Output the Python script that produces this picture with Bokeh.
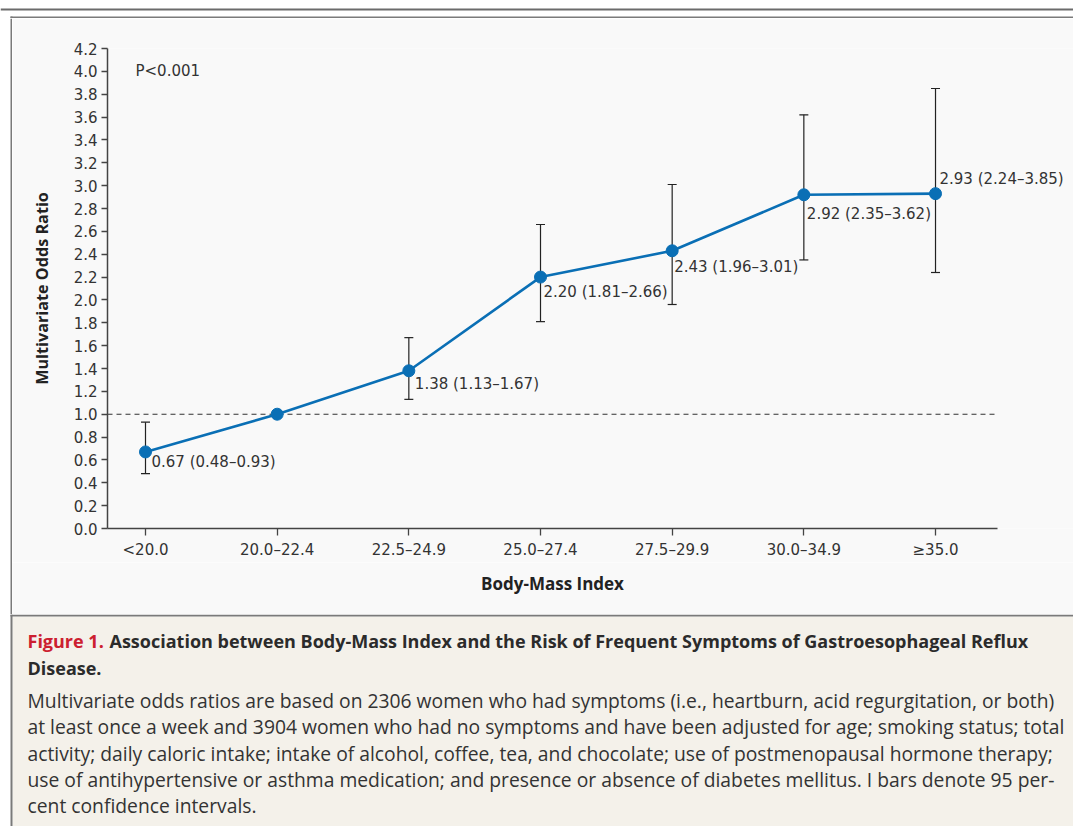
from bokeh.plotting import figure
from bokeh.layouts import column, row
from bokeh.models import (Range1d, FixedTicker, PrintfTickFormatter, Whisker, TeeHead,
                          ColumnDataSource, Label)
from bokeh.core.properties import value
from bokeh.embed import file_html
from bokeh.resources import INLINE

# ---------------- data ----------------
categories = ["<20.0", "20.0\u201322.4", "22.5\u201324.9", "25.0\u201327.4",
              "27.5\u201329.9", "30.0\u201334.9", "\u226535.0"]
odds_ratio = [0.67, 1.00, 1.38, 2.20, 2.43, 2.92, 2.93]
ci_lower = [0.48, None, 1.13, 1.81, 1.96, 2.35, 2.24]
ci_upper = [0.93, None, 1.67, 2.66, 3.01, 3.62, 3.85]
y_ticks = [0.0, 0.2, 0.4, 0.6, 0.8, 1.0, 1.2, 1.4, 1.6, 1.8, 2.0,
           2.2, 2.4, 2.6, 2.8, 3.0, 3.2, 3.4, 3.6, 3.8, 4.0, 4.2]
reference_value = 1.0
p_value_text = "P<0.001"
x_title = "Body-Mass Index"
y_title = "Multivariate Odds Ratio"

caption_title_red = "Figure 1."
caption_title_lines = [
    "Association between Body-Mass Index and the Risk of Frequent Symptoms of Gastroesophageal Reflux",
    "Disease.",
]
caption_body_lines = [
    "Multivariate odds ratios are based on 2306 women who had symptoms (i.e., heartburn, acid regurgitation, or both)",
    "at least once a week and 3904 women who had no symptoms and have been adjusted for age; smoking status; total",
    "activity; daily caloric intake; intake of alcohol, coffee, tea, and chocolate; use of postmenopausal hormone therapy;",
    "use of antihypertensive or asthma medication; and presence or absence of diabetes mellitus. I bars denote 95 per-",
    "cent confidence intervals.",
]

# ---------------- styles / layout ----------------
label_dx = [6, 0, 6, 3, 2, 3, 4]          # px offsets of the value labels
label_dy = [10.5, 0, 13.5, 15, 16, 19, -15]

BLUE = "#0a6fb5"
INK = "#333333"
AXIS = "#444444"
BORDER = "#7a7a7a"
TOPLINE = "#6b6b6b"
CHART_BG = "#f9f9f9"
CAPTION_BG = "#f4f1ea"
RED = "#cc2030"
NUM_FONT = "DejaVu Sans"
TXT_FONT = "Open Sans"

PAGE_W = 1073
HEADER_H = 18
PLOT_H = 544          # page y 18 .. 562
XTITLE_H = 52         # page y 562 .. 614
CAPTION_H = 212       # page y 614 .. 826
STRIP_W = 12
X_START, X_AXIS_END, X_END = -0.2886, 6.471, 7.048


def deco_fig(w, h, x0, y0, bg="white"):
    f = figure(width=w, height=h, output_backend="svg", toolbar_location=None,
               x_range=Range1d(x0, x0 + w), y_range=Range1d(y0 + h, y0),
               min_border=0, border_fill_color=bg, background_fill_color=bg,
               outline_line_color=None)
    f.axis.visible = False
    f.grid.visible = False
    f.frame_align = False
    return f


# header strip: top rule and top edge of the chart box
header = deco_fig(PAGE_W, HEADER_H, 0, 0)
header.quad(left=[0, 10, 10], right=[PAGE_W, PAGE_W, 12], top=[8, 16, 16], bottom=[10, 18, 18],
            fill_color=[TOPLINE, BORDER, BORDER], line_alpha=0)

# left edge strip
strip = deco_fig(STRIP_W, PLOT_H + XTITLE_H, 0, HEADER_H)
strip.quad(left=[10], right=[12], top=[HEADER_H], bottom=[HEADER_H + PLOT_H + XTITLE_H],
           fill_color=BORDER, line_alpha=0)

# ---------------- chart ----------------
xs = list(range(len(categories)))

p = figure(width=PAGE_W - STRIP_W, height=PLOT_H, output_backend="svg", toolbar_location=None,
           x_range=Range1d(X_START, X_END), y_range=Range1d(0, 4.2),
           min_border_left=95, min_border_right=0, min_border_top=30, min_border_bottom=34,
           border_fill_color=CHART_BG, background_fill_color=CHART_BG, outline_line_color=None)
p.xgrid.visible = False
p.ygrid.visible = False
p.frame_align = False

# reference line
p.segment(x0=[X_START], x1=[X_AXIS_END], y0=[reference_value], y1=[reference_value],
          line_color=INK, line_width=1.1, line_dash="5 4")

# error bars
err_x = [x for x, lo in zip(xs, ci_lower) if lo is not None]
err_lo = [lo for lo in ci_lower if lo is not None]
err_hi = [hi for hi in ci_upper if hi is not None]
err_src = ColumnDataSource(data=dict(x=err_x, lower=err_lo, upper=err_hi))
p.add_layout(Whisker(base="x", lower="lower", upper="upper", source=err_src, dimension="height",
                     line_color="#222222", line_width=1.2, level="underlay",
                     upper_head=TeeHead(size=9, line_color="#222222", line_width=1.2),
                     lower_head=TeeHead(size=9, line_color="#222222", line_width=1.2)))

# main series
p.line(xs, odds_ratio, line_color=BLUE, line_width=2.6)
p.scatter(xs, odds_ratio, size=12, fill_color=BLUE, line_color=BLUE)

# value labels
lab_x, lab_y, lab_t, lab_dx, lab_dy = [], [], [], [], []
for i, (v, lo, hi) in enumerate(zip(odds_ratio, ci_lower, ci_upper)):
    if lo is None:
        continue
    lab_x.append(xs[i]); lab_y.append(v)
    lab_t.append(f"{v:.2f} ({lo:.2f}\u2013{hi:.2f})")
    lab_dx.append(label_dx[i]); lab_dy.append(label_dy[i])
lab_src = ColumnDataSource(data=dict(x=lab_x, y=lab_y, t=lab_t, dx=lab_dx, dy=lab_dy))
p.text(x="x", y="y", text="t", x_offset="dx", y_offset="dy", source=lab_src,
       text_font=value(NUM_FONT), text_font_size="15px", text_color=INK,
       text_align="left", text_baseline="middle")

p.add_layout(Label(x=xs[0], y=4.0, x_offset=-10, text=p_value_text, text_font=NUM_FONT,
                   text_font_size="15px", text_color=INK, text_baseline="middle"))

# axes
p.xaxis.ticker = FixedTicker(ticks=xs)
p.xaxis.major_label_overrides = {i: c for i, c in zip(xs, categories)}
p.xaxis.bounds = (X_START, X_AXIS_END)
p.yaxis.ticker = FixedTicker(ticks=y_ticks)
p.yaxis.formatter = PrintfTickFormatter(format="%.1f")
for ax in (p.xaxis, p.yaxis):
    ax.axis_line_color = AXIS
    ax.axis_line_width = 1.5
    ax.major_tick_line_color = AXIS
    ax.major_tick_line_width = 1.3
    ax.major_tick_in = 0
    ax.minor_tick_line_color = None
    ax.major_label_text_font = NUM_FONT
    ax.major_label_text_font_size = "15px"
    ax.major_label_text_color = INK
    ax.axis_label_text_font = TXT_FONT
    ax.axis_label_text_font_style = "bold"
    ax.axis_label_text_color = "#222222"
p.xaxis.major_tick_out = 7
p.xaxis.major_label_standoff = 5
p.yaxis.major_tick_out = 6
p.yaxis.major_label_standoff = 4
p.yaxis.axis_label = y_title
p.yaxis.axis_label_text_font_size = "16.2px"
p.yaxis.axis_label_standoff = 18

# x-axis title strip, centred under the drawn axis (page x 107 .. 997)
xt_top = HEADER_H + PLOT_H
xtitle = deco_fig(PAGE_W - STRIP_W, XTITLE_H, STRIP_W, xt_top, bg=CHART_BG)
xtitle.text(x=[(107 + 997) / 2], y=[583], text=[x_title], text_font=value(TXT_FONT),
            text_font_style="bold", text_font_size="17px", text_color="#222222",
            text_align="center", text_baseline="middle")

# ---------------- caption ----------------
cap_top = HEADER_H + PLOT_H + XTITLE_H
cap = deco_fig(PAGE_W, CAPTION_H, 0, cap_top)
cap.quad(left=[12, 10, 10], right=[PAGE_W, 12, PAGE_W],
         top=[cap_top + 2, cap_top, cap_top],
         bottom=[cap_top + CAPTION_H, cap_top + CAPTION_H, cap_top + 2],
         fill_color=[CAPTION_BG, BORDER, BORDER], line_alpha=0)

cap.text(x=[27], y=[640], text=[caption_title_red], text_font=value(TXT_FONT),
         text_font_style="bold", text_font_size="18px", text_color=RED, text_baseline="middle")
cap.text(x=[109, 27], y=[640, 667], text=caption_title_lines, text_font=value(TXT_FONT),
         text_font_style="bold", text_font_size="18px", text_color="#2b2b2b",
         text_baseline="middle")
cap.text(x=[27] * len(caption_body_lines),
         y=[700 + 26.3 * k for k in range(len(caption_body_lines))],
         text=caption_body_lines, text_font=value(TXT_FONT), text_font_size="19.3px",
         text_color=INK, text_baseline="middle")

layout = column(header, row(strip, column(p, xtitle)), cap)
open("out.html", "w").write(file_html(layout, INLINE))
